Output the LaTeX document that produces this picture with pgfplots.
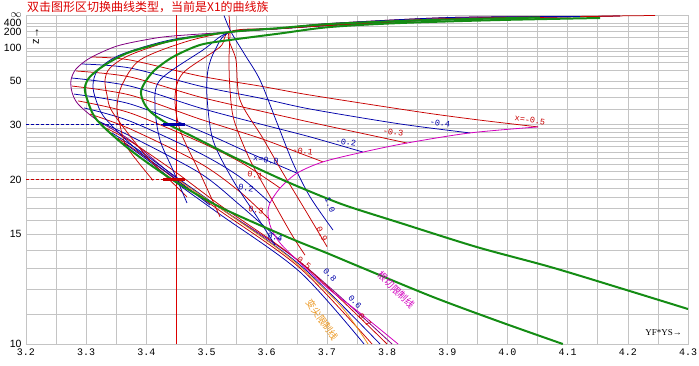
\documentclass[border=0pt]{standalone}
\usepackage{pgfplots}
\pgfplotsset{compat=1.18}
\usepackage{fontspec}
\setmainfont{Liberation Sans}
\newfontfamily\cjk{Noto Sans CJK SC}
\newfontfamily\lmono{Liberation Mono}
\newfontfamily\lserif{Liberation Serif}
\definecolor{gridc}{RGB}{196,196,196}
\definecolor{pur}{RGB}{128,0,128}
\definecolor{mag}{RGB}{210,0,190}
\definecolor{rd}{RGB}{200,0,0}
\definecolor{bl}{RGB}{0,0,170}
\definecolor{gr}{RGB}{20,140,20}
\definecolor{org}{RGB}{235,150,30}
\definecolor{titlered}{RGB}{220,0,0}
\pgfplotsset{
  rl/.style={rd, line width=0.75pt, smooth, tension=0.5},
  bll/.style={bl, line width=0.75pt, smooth, tension=0.5},
}
\tikzset{lab/.style={font=\lmono\fontsize{8.5}{8.5}\selectfont, inner sep=0.5pt, rotate=-8}}
\begin{document}
\begin{tikzpicture}[x=1pt,y=1pt]
\path[use as bounding box] (-26,-21) rectangle (673,344);
\begin{axis}[
  at={(0,0)}, anchor=south west,
  scale only axis, width=662pt, height=329pt,
  xmin=3.2, xmax=4.3, ymin=-0.1, ymax=0,
  y filter/.expression={-1/y},
  xtick={3.2,3.3,...,4.31},
  xticklabels={3.2,3.3,3.4,3.5,3.6,3.7,3.8,3.9,4.0,4.1,4.2,4.3},
  minor xtick={3.25,3.35,...,4.26},
  ytick={-0.1,-0.0666667,-0.05,-0.0333333,-0.02,-0.01,-0.005,-0.0025,0},
  yticklabels={10,15,20,30,50,100,200,400,$\infty$},
  minor ytick={-0.0909091,-0.0833333,-0.0769231,-0.0714286,-0.0625,-0.0588235,-0.0555556,-0.0526316,-0.047619,-0.0454545,-0.0434783,-0.0416667,-0.04,-0.0384615,-0.037037,-0.0357143,-0.0344828,-0.0285714,-0.025,-0.0222222,-0.0166667,-0.0142857,-0.0125,-0.0111111,-0.0066667,-0.0033333},
  grid=both,
  major grid style={gridc, line width=0.6pt},
  minor grid style={gridc, line width=0.6pt},
  axis line style={gridc},
  major tick length=0pt, minor tick length=0pt,
  xticklabel style={font=\lmono\fontsize{10}{10}\selectfont, yshift=-1pt},
  yticklabel style={font=\fontsize{10.5}{10.5}\selectfont, xshift=-1pt},
  clip=true,
]
% guide markers
\addplot[titlered, line width=0.9pt] coordinates {(3.45,10) (3.45,100000)};
\addplot[bl, dashed, dash pattern=on 3pt off 2pt, line width=0.7pt] coordinates {(3.2,30) (3.45,30)};
\addplot[rd, dashed, dash pattern=on 3pt off 2pt, line width=0.7pt] coordinates {(3.2,20) (3.45,20)};
% outer envelope arc (purple)
\addplot[pur, line width=0.8pt, smooth, tension=0.5] coordinates {(4.0873,2193) (3.9046,940) (3.8215,548) (3.7052,329) (3.6221,243.7) (3.539,193.5) (3.4443,156.7) (3.406,137) (3.3512,106) (3.3063,76.5) (3.2831,60.9) (3.2748,50.6) (3.2764,42.7) (3.2864,37.0) (3.318,31.3) (3.3728,26.3) (3.4476,20.3) (3.5224,17.05) (3.6553,13.32) (3.8082,10)};
% fan lines x = -0.5 ... 0.8
\addplot[rl] coordinates {(3.3097,78.3) (3.3728,73.1) (3.4891,53.9) (3.5888,46.3) (3.6719,41.1) (3.8547,33.9) (3.9544,31.3) (4.0508,29.4)};
\addplot[bll] coordinates {(3.2931,67.1) (3.3728,62.1) (3.4891,46.3) (3.5888,39.6) (3.6719,35.0) (3.8215,30.2) (3.9378,27.9)};
\addplot[rl] coordinates {(3.2831,58.75) (3.3728,53.1) (3.4891,40.1) (3.5888,34.3) (3.6719,30.7) (3.755,27.9) (3.8331,25.7)};
\addplot[bll] coordinates {(3.2764,52.2) (3.3728,46.3) (3.4891,35.4) (3.5888,30.2) (3.6719,27.0) (3.76,24.0)};
\addplot[rl] coordinates {(3.2764,46.3) (3.3728,41.1) (3.4891,31.6) (3.5888,26.7) (3.6553,23.8) (3.6935,22.4)};
\addplot[bll] coordinates {(3.2798,41.6) (3.3728,37.0) (3.4891,28.4) (3.5722,23.8) (3.6221,21.8) (3.6503,20.8)};
\addplot[rl] coordinates {(3.2864,38.3) (3.3728,33.6) (3.4891,25.9) (3.5556,22.4) (3.6055,19.8) (3.6221,19.0)};
\addplot[bll] coordinates {(3.2964,35.4) (3.3728,31.0) (3.4891,23.8) (3.5556,20.3) (3.6055,17.5)};
\addplot[rl] coordinates {(3.3063,33.2) (3.3728,28.9) (3.4891,22.2) (3.5556,18.6) (3.6055,16.05)};
\addplot[bll] coordinates {(3.3196,31.0) (3.3728,27.2) (3.4891,20.8) (3.5556,17.3) (3.6221,14.6)};
\addplot[rl] coordinates {(3.3329,29.1) (3.3728,26.1) (3.4476,21.0) (3.5224,17.3) (3.6553,13.32) (3.7999,10)};
\addplot[bll] coordinates {(3.3429,27.9) (3.3894,24.2) (3.4476,20.4) (3.5224,17.05) (3.6553,13.16) (3.7882,10)};
\addplot[rl] coordinates {(3.3529,26.7) (3.3977,23.2) (3.4476,20.06) (3.5224,16.8) (3.6553,13.0) (3.775,10)};
\addplot[bll] coordinates {(3.3628,25.7) (3.4061,22.4) (3.4476,19.7) (3.5224,16.5) (3.6553,12.8) (3.7617,10)};
% arcs through the common point
\addplot[bll] coordinates {(4.1871,3290) (3.9046,731) (3.7052,313) (3.6221,240) (3.539,193.5) (3.4393,131.6) (3.3562,82.3) (3.3196,59.8) (3.3113,47.0) (3.3163,38.7) (3.3313,31.9) (3.3844,24.4) (3.4393,20.6) (3.5058,17.3)};
\addplot[rl] coordinates {(4.1206,2193) (3.9046,1316) (3.7052,387) (3.6221,250) (3.539,193.5) (3.4476,131.6) (3.3728,82.3) (3.3396,62.1) (3.3313,50.6) (3.3346,41.1) (3.3446,33.6) (3.4011,23.2) (3.4675,18.1)};
\addplot[rl] coordinates {(4.2452,6580) (3.9046,940) (3.7052,346) (3.6221,244) (3.539,193.5) (3.4642,121.9) (3.3894,73.1) (3.3595,47.0) (3.3512,35.8) (3.3562,29.9) (3.3678,24.9) (3.411,19.9)};
\addplot[bll] coordinates {(4.0541,1645) (3.9046,822) (3.7052,329) (3.6221,244) (3.539,193.5) (3.4941,94.0) (3.4227,50.6) (3.4144,35.8) (3.4227,26.3) (3.4443,21.2) (3.4675,17.5)};
\addplot[rl] coordinates {(4.1871,3290) (3.9046,731) (3.7052,313) (3.6221,240) (3.539,193.5) (3.5224,102.8) (3.4609,56.7) (3.4476,40.1) (3.4559,28.6) (3.4891,20.8) (3.5224,16.3)};
\addplot[bll] coordinates {(4.1206,2193) (3.9046,1316) (3.7052,387) (3.6221,250) (3.539,193.5) (3.5141,94.0) (3.5024,59.8) (3.5008,40.1) (3.5107,26.3) (3.544,19.9) (3.5839,16.3) (3.6138,14.3)};
\addplot[rl] coordinates {(3.5373,6580) (3.539,193.5) (3.5373,73.1) (3.539,43.9) (3.5456,31.3) (3.5722,22.7) (3.6088,17.8) (3.642,14.95) (3.6636,13.7)};
\addplot[rl] coordinates {(4.0541,1645) (3.9046,822) (3.7052,329) (3.6221,244) (3.539,193.5) (3.549,73.1) (3.5556,38.7) (3.5922,27.0) (3.6271,20.8) (3.6636,16.9) (3.7002,14.2)};
\addplot[bll] coordinates {(3.529,6580) (3.5407,193.5) (3.5639,82.3) (3.5888,50.6) (3.6171,30.5) (3.6437,22.2) (3.6719,18.1) (3.7101,15.3)};
% undercut limit (magenta) and tip limit (orange)
\addplot[mag, line width=0.8pt, smooth, tension=0.5] coordinates {(4.0508,29.4) (3.9378,27.9) (3.8331,25.7) (3.76,24.0) (3.6935,22.4) (3.6503,20.8) (3.6221,19.0) (3.6055,17.5) (3.6021,16.53) (3.6071,15.45) (3.6221,14.43) (3.6553,13.27) (3.7052,11.96) (3.755,11.04) (3.8182,10)};
\addplot[org, line width=0.8pt, smooth, tension=0.5] coordinates {(3.4476,20.2) (3.539,16.45) (3.6387,13.54) (3.7218,11.34) (3.7683,10)};
% green G1
\addplot[gr, line width=2pt, smooth, tension=0.5] coordinates {
(4.054,1316) (3.905,731) (3.822,548) (3.705,366) (3.622,253) (3.539,193.5) (3.448,131.6) (3.373,88.9) (3.331,65.8) (3.306,53.1) (3.298,45.7) (3.301,39.6) (3.318,31.3) (3.373,24.4) (3.444,19.94) (3.522,17.14) (3.634,14.82) (3.700,13.82) (3.755,13.06) (3.876,11.67) (3.988,10.72) (4.092,10.0)};
% green G2
\addplot[gr, line width=2pt, smooth, tension=0.5] coordinates {
(4.154,1097) (3.988,658) (3.822,411) (3.705,274) (3.622,178) (3.539,131.6) (3.489,109.7) (3.444,78.3) (3.414,59.8) (3.398,49.1) (3.391,42.7) (3.396,37.4) (3.409,33.6) (3.439,29.9) (3.489,26.3) (3.544,23.2) (3.627,19.94) (3.694,18.08) (3.738,17.14) (3.822,15.82) (3.949,14.18) (4.071,13.06) (4.187,12.05) (4.300,11.19)};
% markers
\addplot[bl, line width=2.5pt] coordinates {(3.428,30) (3.464,30)};
\addplot[rd, line width=2.5pt] coordinates {(3.428,20) (3.464,20)};
% labels
\node[lab, text=rd] at (axis cs:4.0375,-0.03191) {x=-0.5};
\node[lab, text=bl] at (axis cs:3.888,-0.03283) {-0.4};
\node[lab, text=rd] at (axis cs:3.81,-0.03556) {-0.3};
\node[lab, text=bl] at (axis cs:3.7317,-0.0386) {-0.2};
\node[lab, text=rd] at (axis cs:3.66,-0.04134) {-0.1};
\node[lab, text=bl] at (axis cs:3.5988,-0.04407) {x=0.0};
\node[lab, text=rd] at (axis cs:3.5805,-0.04863) {0.1};
\node[lab, text=bl] at (axis cs:3.5656,-0.05258) {0.2};
\node[lab, text=rd] at (axis cs:3.5822,-0.05927) {0.3};
\node[lab, text=bl] at (axis cs:3.6138,-0.06748) {0.4};
\node[lab, text=rd, rotate=-30] at (axis cs:3.662,-0.07538) {0.5};
\node[lab, text=bl, rotate=-40] at (axis cs:3.705,-0.07903) {0.8};
\node[lab, text=bl, rotate=-40] at (axis cs:3.7467,-0.08723) {0.6};
\node[lab, text=rd, rotate=-40] at (axis cs:3.7633,-0.0927) {0.7};
\node[lab, text=rd, rotate=-55] at (axis cs:3.6918,-0.06657) {0.9};
\node[lab, text=bl, rotate=-60] at (axis cs:3.7052,-0.05775) {1.0};
\node[text=mag, rotate=-45, inner sep=0, font=\cjk\fontsize{9.5}{9.5}\selectfont] at (axis cs:3.8148,-0.0836) {根切限制线};
\node[text=org, rotate=-55, inner sep=0, font=\cjk\fontsize{9.5}{9.5}\selectfont] at (axis cs:3.6919,-0.0927) {变尖限制线};
\end{axis}
\node[anchor=base west, inner sep=0, text=titlered, font=\cjk\fontsize{12}{12}\selectfont] at (1,333) {双击图形区切换曲线类型，当前是X1的曲线族};
\node[rotate=90, inner sep=0, font=\fontsize{11}{11}\selectfont] at (10,308) {z→};
\node[anchor=east, inner sep=0, font=\lserif\fontsize{9}{9}\selectfont] at (656,11) {YF*YS→};
\end{tikzpicture}
\end{document}
